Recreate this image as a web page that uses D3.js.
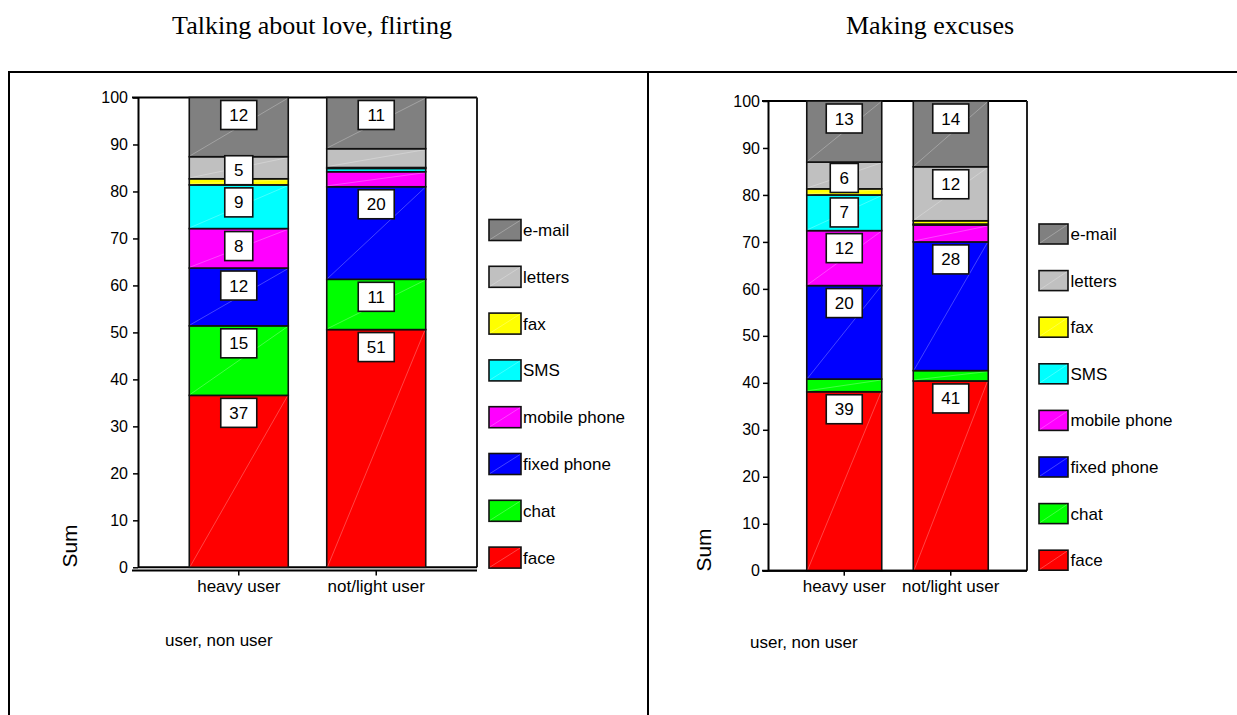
<!DOCTYPE html>
<html>
<head>
<meta charset="utf-8">
<script src="https://cdn.jsdelivr.net/npm/d3@7"></script>
<style>
  html, body { margin: 0; padding: 0; background: #fff; }
  svg { display: block; }
  text { font-family: "Liberation Sans", Arial, sans-serif; fill: #000; }
</style>
</head>
<body>
<svg id="chart" width="1237" height="715"></svg>
<script>
// ---------- DATA ----------
const categories = ["heavy user", "not/light user"];
const seriesNames = ["face", "chat", "fixed phone", "mobile phone", "SMS", "fax", "letters", "e-mail"];
const seriesColors = ["#ff0000", "#00ff00", "#0000ff", "#ff00ff", "#00ffff", "#ffff00", "#c0c0c0", "#808080"];
const yTicks = [0, 10, 20, 30, 40, 50, 60, 70, 80, 90, 100];

const titleLove = "Talking about love, flirting";
const loveHeavy = [36.6, 14.8, 12.3, 8.4, 9.3, 1.3, 4.7, 12.6];
const loveLight = [50.6, 10.7, 19.7, 3.2, 0.7, 0.2, 4.0, 10.9];
const loveHeavyLabels = ["37", "15", "12", "8", "9", "", "5", "12"];
const loveLightLabels = ["51", "11", "20", "", "", "", "", "11"];

const titleExcuses = "Making excuses";
const excuseHeavy = [38.1, 2.7, 19.9, 11.7, 7.6, 1.3, 5.7, 13.0];
const excuseLight = [40.4, 2.2, 27.4, 3.6, 0.2, 0.7, 11.5, 14.0];
const excuseHeavyLabels = ["39", "", "20", "12", "7", "", "6", "13"];
const excuseLightLabels = ["41", "", "28", "", "", "", "12", "14"];

const yAxisTitle = "Sum";
const xAxisTitle = "user, non user";

// ---------- DRAW ----------
const svg = d3.select("#chart");

// outer frame
const frame = svg.append("g").attr("stroke", "#000").attr("stroke-width", 2).attr("fill", "none");
frame.append("line").attr("x1", 9).attr("x2", 1237).attr("y1", 72).attr("y2", 72);
frame.append("line").attr("x1", 9).attr("x2", 9).attr("y1", 71).attr("y2", 715);
frame.append("line").attr("x1", 648).attr("x2", 648).attr("y1", 71).attr("y2", 715);

function drawPanel(cfg) {
  const g = svg.append("g");
  const keys = seriesNames;
  const rows = categories.map((c, i) => {
    const o = { cat: c };
    keys.forEach((k, j) => { o[k] = cfg.values[i][j]; });
    return o;
  });
  const stacked = d3.stack().keys(keys)(rows);

  const x = d3.scaleBand().domain(categories).range([cfg.x0, cfg.x1])
    .paddingInner(cfg.pi).paddingOuter(cfg.po);
  const y = d3.scaleLinear().domain([0, 100]).range([cfg.yBot, cfg.yTop]);
  const color = d3.scaleOrdinal().domain(keys).range(seriesColors);

  // title
  svg.append("text").attr("x", cfg.titleX).attr("y", 34)
    .attr("text-anchor", "middle")
    .style("font-family", "'Liberation Serif', 'Times New Roman', serif")
    .style("font-size", "26px")
    .text(cfg.title);

  // plot frame (top + right + bottom)
  g.append("line").attr("x1", cfg.x0 - 6).attr("x2", cfg.x1).attr("y1", cfg.yTop).attr("y2", cfg.yTop)
    .attr("stroke", "#000").attr("stroke-width", 2);
  g.append("line").attr("x1", cfg.x1).attr("x2", cfg.x1).attr("y1", cfg.yTop).attr("y2", cfg.yBot)
    .attr("stroke", "#222").attr("stroke-width", 2);
  g.append("line").attr("x1", cfg.x0).attr("x2", cfg.x1).attr("y1", cfg.yBot).attr("y2", cfg.yBot)
    .attr("stroke", "#000").attr("stroke-width", 2);

  // bars
  const layer = g.selectAll("g.layer").data(stacked).join("g").attr("class", "layer");
  layer.each(function (s) {
    const sel = d3.select(this);
    s.forEach((d, i) => {
      const v = d[1] - d[0];
      if (v <= 0) return;
      const bx = x(categories[i]), bw = x.bandwidth();
      const yt = y(d[1]), yb = y(d[0]);
      sel.append("rect").attr("x", bx).attr("y", yt).attr("width", bw).attr("height", yb - yt)
        .attr("fill", color(s.key)).attr("stroke", "#111").attr("stroke-width", 1.6);
      if (yb - yt > 6) {
        sel.append("line").attr("x1", bx + 1).attr("y1", yb - 1).attr("x2", bx + bw - 1).attr("y2", yt + 1)
          .attr("stroke", "#fff").attr("stroke-opacity", 0.45).attr("stroke-width", 0.6);
      }
    });
  });

  // value labels
  stacked.forEach((s, j) => {
    s.forEach((d, i) => {
      const lab = cfg.labels[i][j];
      if (!lab) return;
      const yt = y(d[1]), yb = y(d[0]);
      const h = yb - yt;
      const cy = yt + Math.min(17.5, h / 2 + 2.5);
      const cx = x(categories[i]) + x.bandwidth() / 2;
      const w = lab.length > 1 ? 36 : 28;
      g.append("rect").attr("x", cx - w / 2).attr("y", cy - 14.5).attr("width", w).attr("height", 29)
        .attr("fill", "#fff").attr("stroke", "#111").attr("stroke-width", 1.6);
      g.append("text").attr("x", cx).attr("y", cy + 6).attr("text-anchor", "middle")
        .style("font-size", "17px").text(lab);
    });
  });

  // y axis
  const yAxis = d3.axisLeft(y).tickValues(yTicks).tickSize(5).tickPadding(cfg.tickPad).tickSizeOuter(0);
  const ya = g.append("g").attr("transform", `translate(${cfg.x0},0)`).call(yAxis);
  ya.select(".domain").attr("stroke", "#000").attr("stroke-width", 2);
  ya.selectAll(".tick line").attr("stroke", "#000").attr("stroke-width", 1.5);
  ya.selectAll(".tick text").style("font-size", "16px").attr("fill", "#000")
    .style("font-family", "'Liberation Sans', Arial, sans-serif");

  // x axis
  const xAxis = d3.axisBottom(x).tickSize(5).tickPadding(4).tickSizeOuter(0);
  const xa = g.append("g").attr("transform", `translate(0,${cfg.axisY})`).call(xAxis);
  xa.select(".domain").attr("stroke", "#000").attr("stroke-width", 2)
    .attr("d", `M${cfg.x0 - 6},0H${cfg.x1}`);
  xa.selectAll(".tick line").attr("stroke", "#000").attr("stroke-width", 1.5);
  xa.selectAll(".tick text").style("font-size", "17px").attr("fill", "#000")
    .style("font-family", "'Liberation Sans', Arial, sans-serif");

  // axis titles
  g.append("text").attr("transform", `translate(${cfg.sumX},${cfg.sumY}) rotate(-90)`)
    .attr("text-anchor", "middle").style("font-size", "21px").text(yAxisTitle);
  g.append("text").attr("x", cfg.userX).attr("y", cfg.userY).style("font-size", "17px").text(xAxisTitle);

  // legend (top to bottom: e-mail ... face)
  const legendKeys = keys.slice().reverse();
  legendKeys.forEach((k, i) => {
    const cy = cfg.legY0 + i * cfg.legStep;
    g.append("rect").attr("x", cfg.legX).attr("y", cy - cfg.swH / 2).attr("width", cfg.swW).attr("height", cfg.swH)
      .attr("fill", color(k)).attr("stroke", "#111").attr("stroke-width", 1.6);
    g.append("line").attr("x1", cfg.legX + 1).attr("y1", cy + cfg.swH / 2 - 1)
      .attr("x2", cfg.legX + cfg.swW - 1).attr("y2", cy - cfg.swH / 2 + 1)
      .attr("stroke", "#fff").attr("stroke-opacity", 0.45).attr("stroke-width", 0.6);
    g.append("text").attr("x", cfg.legTextX).attr("y", cy + 6).style("font-size", "17px").text(k);
  });
}

drawPanel({
  title: titleLove, titleX: 312,
  values: [loveHeavy, loveLight], labels: [loveHeavyLabels, loveLightLabels],
  x0: 138, x1: 477, pi: 0.28, po: 0.373,
  yTop: 97.5, yBot: 567.3, axisY: 570.5, tickPad: 5,
  sumX: 77, sumY: 546, userX: 165, userY: 646,
  legX: 489, swW: 32, swH: 21, legY0: 230, legStep: 46.8, legTextX: 523
});

drawPanel({
  title: titleExcuses, titleX: 930,
  values: [excuseHeavy, excuseLight], labels: [excuseHeavyLabels, excuseLightLabels],
  x0: 768, x1: 1027, pi: 0.296, po: 0.364,
  yTop: 101, yBot: 570.7, axisY: 570.7, tickPad: 3,
  sumX: 711, sumY: 550, userX: 750, userY: 648,
  legX: 1039, swW: 29, swH: 20, legY0: 234, legStep: 46.6, legTextX: 1070.5
});
</script>
</body>
</html>
